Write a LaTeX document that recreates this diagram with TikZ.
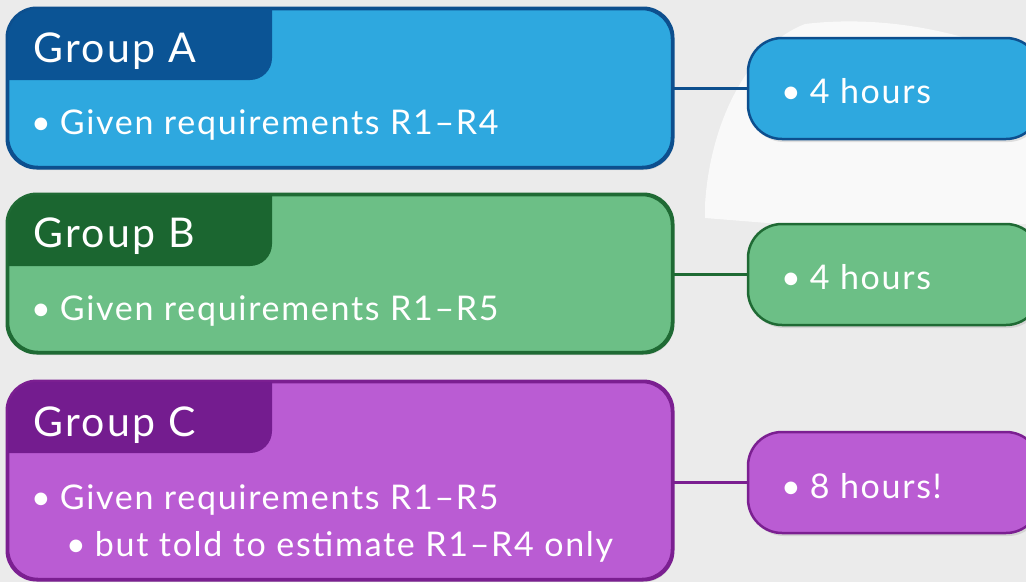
\documentclass[tikz,border=0pt]{standalone}
\usepackage{fontspec}
\setmainfont{Lato}
\newfontfamily\headfont[LetterSpace=6]{Lato}
\newfontfamily\bodyfont[LetterSpace=5]{Lato}
\newcommand{\bul}{•\hspace{9pt}}
\usetikzlibrary{shadows}
\definecolor{bg}{HTML}{EBEBEB}
\definecolor{aFill}{HTML}{2EA8DF}
\definecolor{aDark}{HTML}{0B5495}
\definecolor{aLine}{HTML}{0D4F8E}
\definecolor{bFill}{HTML}{6CBF86}
\definecolor{bDark}{HTML}{1B6630}
\definecolor{bLine}{HTML}{1F6A34}
\definecolor{cFill}{HTML}{BA5CD3}
\definecolor{cDark}{HTML}{741C8F}
\definecolor{cLine}{HTML}{7B1F91}
\begin{document}
\begin{tikzpicture}[x=1pt,y=-1pt,
  shad/.style={drop shadow={opacity=0.22,shadow xshift=2pt,shadow yshift=-3pt}},
  bigbox/.style={draw=#1Line,fill=#1Fill,line width=2.5pt,rounded corners=30pt,
    minimum width=664pt,inner sep=0pt,shad},
  smallbox/.style={draw=#1Line,fill=#1Fill,line width=2.5pt,rounded corners=34pt,
    minimum width=292pt,minimum height=101pt,inner sep=0pt,shad},
  link/.style={draw=#1Line,line width=3pt},
  headtxt/.style={anchor=base west,text=white,inner sep=0pt,font=\headfont\fontsize{41}{46}\selectfont},
  bodytxt/.style={anchor=base west,text=white,inner sep=0pt,font=\bodyfont\fontsize{34}{38}\selectfont}]
\useasboundingbox (0,0) rectangle (1026,582);
\clip (0,0) rectangle (1026,582);
\fill[bg] (0,0) rectangle (1026,582);
% watermark
\fill[white,opacity=0.7] (805,24) .. controls (750,45) and (710,120) .. (705,205)
  -- (705,218) -- (780,224) -- (1026,224) -- (1026,60) .. controls (960,30) and (880,15) .. (805,24);
% ---- Group A
\node[bigbox=a,minimum height=158pt] (A) at (340,88) {};
\begin{scope}
  \clip[rounded corners=30pt] (A.north west) rectangle (A.south east);
  \fill[aDark,rounded corners=22pt] (-60,-60) -- (272,-60) -- (272,80) -- (-60,80) -- cycle;
\end{scope}
\draw[aLine,line width=2.5pt,rounded corners=30pt] (A.north west) rectangle (A.south east);
\node[headtxt] (Ah) at (33,62) {Group A};
\node[bodytxt] (Ab) at (31,134) {\bul Given requirements R1–R4};
\node[smallbox=a] (Ar) at (894,88.5) {};
\node[bodytxt] (Art) at (781,103) {\bul 4 hours};
\draw[link=a] (Ar.west) -- (A.east |- Ar.west);
% ---- Group B
\node[bigbox=b,minimum height=157pt] (B) at (340,273.5) {};
\begin{scope}
  \clip[rounded corners=30pt] (B.north west) rectangle (B.south east);
  \fill[bDark,rounded corners=22pt] (-60,100) -- (272,100) -- (272,266) -- (-60,266) -- cycle;
\end{scope}
\draw[bLine,line width=2.5pt,rounded corners=30pt] (B.north west) rectangle (B.south east);
\node[headtxt] (Bh) at (33,247) {Group B};
\node[bodytxt] (Bb) at (31,320) {\bul Given requirements R1–R5};
\node[smallbox=b] (Br) at (894,274.5) {};
\node[bodytxt] (Brt) at (781,289) {\bul 4 hours};
\draw[link=b] (Br.west) -- (B.east |- Br.west);
% ---- Group C
\node[bigbox=c,minimum height=197pt] (C) at (340,480.5) {};
\begin{scope}
  \clip[rounded corners=30pt] (C.north west) rectangle (C.south east);
  \fill[cDark,rounded corners=22pt] (-60,300) -- (272,300) -- (272,453) -- (-60,453) -- cycle;
\end{scope}
\draw[cLine,line width=2.5pt,rounded corners=30pt] (C.north west) rectangle (C.south east);
\node[headtxt] (Ch) at (33,436) {Group C};
\node[bodytxt] (Cb) at (31,509) {\bul Given requirements R1–R5};
\node[bodytxt] (Cs) at (66,556) {\bul but told to estimate R1–R4 only};
\node[smallbox=c] (Cr) at (894,482.5) {};
\node[bodytxt] (Crt) at (781,498) {\bul 8 hours!};
\draw[link=c] (Cr.west) -- (C.east |- Cr.west);
\end{tikzpicture}
\end{document}
